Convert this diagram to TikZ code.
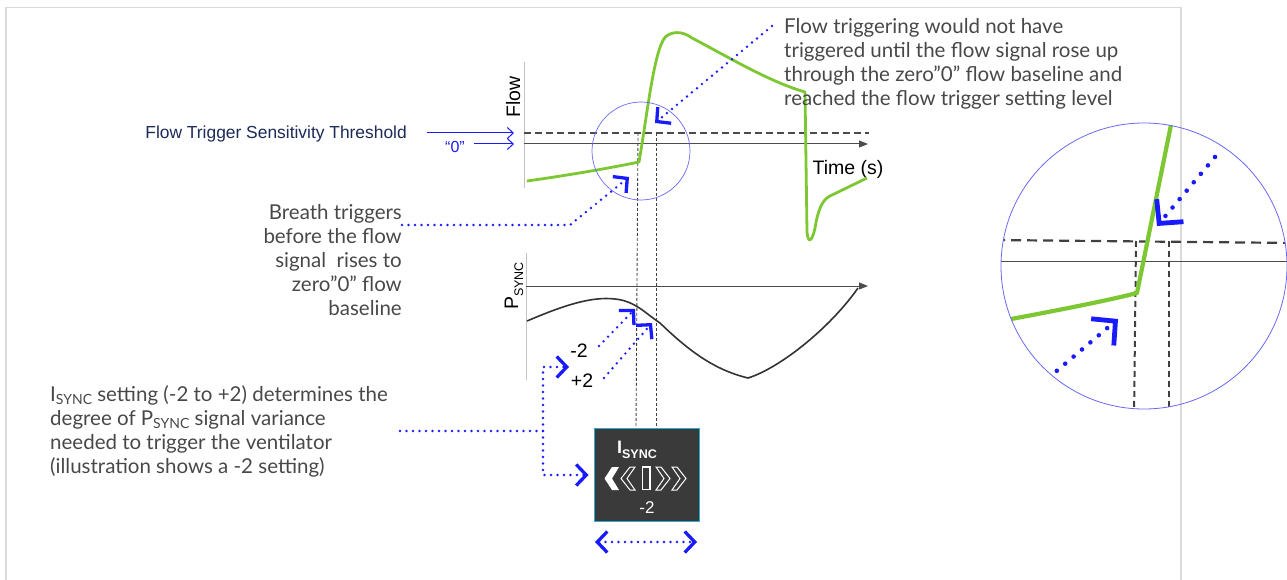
\documentclass[tikz,border=0pt]{standalone}
\usepackage{fontspec}
\setmainfont{Liberation Sans}
\newfontfamily\lato{Lato}
\usetikzlibrary{arrows.meta}
\definecolor{myblue}{RGB}{26,26,255}
\definecolor{circblue}{RGB}{105,105,240}
\definecolor{flowgreen}{RGB}{125,200,50}
\definecolor{navytxt}{RGB}{28,42,88}
\definecolor{graytxt}{RGB}{72,72,72}
\definecolor{framegray}{RGB}{218,218,218}
\definecolor{axisgray}{RGB}{195,195,195}
\definecolor{boxfill}{RGB}{58,58,58}
\definecolor{boxedge}{RGB}{45,170,205}
\begin{document}
\begin{tikzpicture}[x=1pt,y=-1pt,
  dotblue/.style={draw=myblue, line width=2.7pt, dash pattern=on 0pt off 6.5pt, line cap=round},
  bigdot/.style={draw=myblue, line width=4.6pt, dash pattern=on 0pt off 11pt, line cap=round},
  barb/.style={-{Straight Barb[length=10pt,width=21pt,line width=3.3pt]}},
  dbarb/.style={{Straight Barb[length=10pt,width=21pt,line width=3.3pt]}-{Straight Barb[length=10pt,width=21pt,line width=3.3pt]}},
  bigbarb/.style={-{Straight Barb[length=17pt,width=35pt,line width=4.8pt]}},
  thinarrow/.style={draw=myblue, line width=1pt, -{Straight Barb[length=6pt,width=11pt,line width=1pt]}},
  note/.style={font=\lato\fontsize{20.5}{24}\selectfont, text=graytxt, inner sep=0pt},
  lbl/.style={font=\fontsize{19.5}{22}\selectfont, inner sep=0pt},
  axis/.style={draw=black!70, line width=1pt, -{Triangle[length=9pt,width=7pt]}},
  vaxis/.style={draw=axisgray, line width=1pt},
  thresh/.style={draw=black!70, line width=1.2pt, dash pattern=on 7pt off 4pt},
  guide/.style={draw=black!75, line width=0.9pt, dash pattern=on 3pt off 2pt},
  curve/.style={draw=black!80, line width=1.6pt},
  green/.style={draw=flowgreen, line width=2.8pt, line join=round},
  chev/.style={draw=white, line width=1pt, line join=miter},
]
\useasboundingbox (0,0) rectangle (1287,580);
% frame
\draw[framegray, line width=1.6pt] (6,580) -- (6,7.5) -- (1181,7.5) -- (1181,580);

% ---------- Flow chart ----------
\draw[vaxis] (524,62) -- (524,188);
\draw[thresh] (524,133) -- (869,133);
\draw[axis] (524,144) -- (868,144);
\node[lbl, rotate=90, anchor=base] (flowlbl) at (520,97) {Flow};
\node[lbl, anchor=base] (timelbl) at (848,175) {Time (s)};
\draw[guide] (638,133) -- (636,428);
\draw[guide] (656,133) -- (656,428);
\draw[green] (527,181) .. controls (570,175) and (610,168) .. (639,162)
  .. controls (648,110) and (655,40) .. (668,35)
  .. controls (675,31) and (684,32) .. (692,38)
  .. controls (730,58) and (770,82) .. (805,92)
  -- (807,232) .. controls (808,244) and (812,242) .. (815,228)
  .. controls (818,210) and (822,200) .. (830,196) -- (867,178);
\draw[circblue, line width=0.7pt] (641,151) circle[radius=49];

\node[font=\fontsize{17.4}{20}\selectfont, text=navytxt, inner sep=0pt, anchor=base east] (thr) at (407,139) {Flow Trigger Sensitivity Threshold};
\node[font=\fontsize{16}{20}\selectfont, text=myblue, inner sep=0pt, anchor=base] (zero) at (455,153) {“0”};
\coordinate (thrS) at (427,133);
\coordinate (thrE) at (514,133);
\coordinate (zeroS) at (474,144);
\coordinate (zeroE) at (514,144);
\draw[thinarrow] (thrS) -- (thrE);
\draw[thinarrow] (zeroS) -- (zeroE);

% notes (base anchor = baseline of the last line)
\node[note, anchor=base west, align=left] (flownote) at (784,106)
 {Flow triggering would not have\\triggered until the flow signal rose up\\through the zero”0” flow baseline and\\reached the flow trigger setting level};
\coordinate (fnS) at (772,26);
\coordinate (fnE) at (655,123);
\draw[dotblue, barb] (fnS) -- (fnE);

\node[note, anchor=base east, align=right] (breath) at (402,315)
 {Breath triggers\\before the flow\\signal\ \ rises to\\zero”0” flow\\baseline};
\coordinate (brS) at (402,225);
\coordinate (brM) at (570,225);
\coordinate (brE) at (629,177);
\draw[dotblue, barb] (brS) -- (brM) -- (brE);

% ---------- PSYNC chart ----------
\draw[vaxis] (526,253) -- (526,380);
\draw[axis] (526,286) -- (868,286);
\node[lbl, rotate=90, anchor=base] (psynclbl) at (518,286) {P\raisebox{-5pt}{\fontsize{12.5}{12.5}\selectfont SYNC}};
\draw[curve] (527,321) .. controls (560,307) and (590,296) .. (615,299)
  .. controls (635,301) and (645,313) .. (660,323)
  .. controls (690,352) and (715,370) .. (748,378)
  .. controls (780,368) and (830,328) .. (858,288);
\node[lbl, anchor=base] (m2) at (579,357) {-2};
\node[lbl, anchor=base] (p2) at (582,387) {+2};
\coordinate (m2S) at (599,346);
\coordinate (m2E) at (635,309);
\coordinate (p2S) at (604,378);
\coordinate (p2E) at (652,323);
\draw[dotblue, barb] (m2S) -- (m2E);
\draw[dotblue, barb] (p2S) -- (p2E);

% ---------- ISYNC note and box ----------
\node[note, anchor=base west, align=left] (isnote) at (50,473)
 {I\raisebox{-3pt}{\fontsize{14}{14}\selectfont SYNC} setting (-2 to +2) determines the\\degree of P\raisebox{-3pt}{\fontsize{14}{14}\selectfont SYNC} signal variance\\needed to trigger the ventilator\\(illustration shows a -2 setting)};
\node[draw=boxedge, fill=boxfill, line width=1pt, minimum width=105pt, minimum height=93pt, inner sep=0pt] (isbox) at (646.5,474.5) {};
\node[text=white, font=\bfseries\fontsize{18}{18}\selectfont, inner sep=0pt, anchor=base] (isname) at (637,453) {I\raisebox{-5pt}{\fontsize{12.5}{12.5}\selectfont\bfseries SYNC}};
\node[text=white, font=\fontsize{17}{17}\selectfont, inner sep=0pt, anchor=base] (isval) at (647,513) {-2};
% chevron icons
\fill[white] (612,467) -- (604.5,478.5) -- (612,490) -- (619,490) -- (612,478.5) -- (619,467) -- cycle;
\draw[chev] (630,467) -- (621,478.5) -- (630,490) -- (635,490) -- (627,478.5) -- (635,467) -- cycle;
\draw[white, line width=1.2pt] (642.5,467) rectangle (650,489.5);
\draw[chev] (656,467) -- (664,478.5) -- (656,490) -- (661,490) -- (670,478.5) -- (661,467) -- cycle;
\draw[chev] (672,467) -- (680,478.5) -- (672,490) -- (677,490) -- (686,478.5) -- (677,467) -- cycle;

\coordinate (isS) at (400,431);
\coordinate (isJ) at (543,431);
\coordinate (isT) at (543,367);
\coordinate (isB) at (543,475);
\coordinate (isTE) at (569,367);
\draw[dotblue] (isS) -- (isJ);
\draw[dotblue, barb] (isJ) -- (isT) -- (isTE);
\draw[dotblue, barb] (isJ) -- (isB) -- ([xshift=-5pt]isbox.west |- isB);
\coordinate (rangeL) at (595,542);
\coordinate (rangeR) at (697,542);
\draw[dotblue, dbarb] (rangeL) -- (rangeR);

% ---------- magnified view ----------
\begin{scope}
\clip (1144,266) circle[radius=143];
\draw[draw=black!75, line width=2.2pt, dash pattern=on 10pt off 6pt] (995,240) -- (1295,243);
\draw[draw=black!70, line width=1pt] (995,261) -- (1295,261);
\draw[draw=black!75, line width=2pt, dash pattern=on 6pt off 4pt] (1136,241) -- (1134,420);
\draw[draw=black!75, line width=2pt, dash pattern=on 6pt off 4pt] (1169,241) -- (1169,420);
\draw[green, line width=4.2pt] (995,322) .. controls (1060,310) and (1110,300) .. (1137,293) -- (1176,100);
\coordinate (zS1) at (1215,157);
\coordinate (zE1) at (1157,226);
\coordinate (zS2) at (1040,385);
\coordinate (zE2) at (1118,319);
\draw[bigdot, bigbarb] (zS1) -- (zE1);
\draw[bigdot, bigbarb] (zS2) -- (zE2);
\end{scope}
\draw[circblue, line width=0.8pt] (1144,266) circle[radius=143];
\end{tikzpicture}
\end{document}
